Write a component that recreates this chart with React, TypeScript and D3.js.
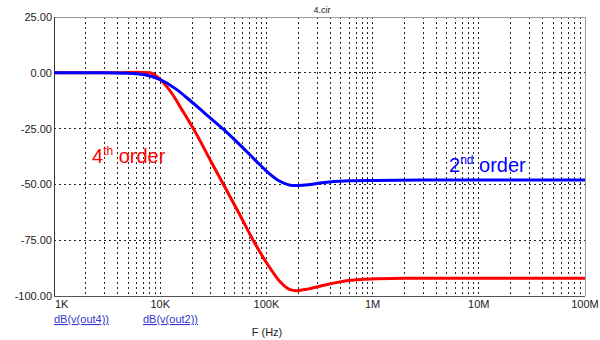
import React from 'react';
import * as d3 from 'd3';

const freqTicks = [1e3, 1e4, 1e5, 1e6, 1e7, 1e8];
const freqTickLabels = ['1K', '10K', '100K', '1M', '10M', '100M'];
const dbTicks = [25, 0, -25, -50, -75, -100];
const dbTickLabels = ['25.00', '0.00', '-25.00', '-50.00', '-75.00', '-100.00'];
const dbGrid = [0, -25, -50, -75];

const order2Freq = [1e3, 3e3, 5e3, 7e3, 1e4, 1.4e4, 1.9e4, 2.7e4, 4e4, 5.6e4, 7.8e4, 1e5, 1.34e5, 1.78e5, 2e5, 2.6e5, 3.2e5, 6e5, 1e6, 3e6, 1e7, 1e8];
const order2Db = [0, 0, -0.2, -0.8, -3.1, -7.2, -12.3, -18.6, -25.6, -32.2, -39, -44, -48.6, -50.5, -50.5, -50, -49.4, -48.4, -48.2, -48, -48, -48];

const order4Freq = [1e3, 4e3, 6e3, 8e3, 1e4, 1.3e4, 1.6e4, 2.05e4, 3e4, 4e4, 5.6e4, 7.5e4, 1e5, 1.34e5, 1.65e5, 1.93e5, 2.5e5, 3.2e5, 5.7e5, 1.09e6, 2e6, 1e7, 1e8];
const order4Db = [0, 0, 0.3, 0, -3, -9.5, -16.5, -25, -39.6, -50.6, -63.5, -75, -85, -93.5, -97, -97.6, -96.8, -95.6, -93.2, -92.3, -92, -92, -92];

const title = '4.cir';
const xLabel = 'F (Hz)';
const legend = ['dB(v(out4))', 'dB(v(out2))'];

const FONT = '"Liberation Sans", Arial, sans-serif';

export default function App() {
  const left = 54, right = 585, top = 17, bottom = 296;
  const x = d3.scaleLog().domain([1e3, 1e8]).range([left, right]);
  const y = d3.scaleLinear().domain([-100, 25]).range([bottom, top]);

  const minor: number[] = [];
  for (let d = 1e3; d < 1e8; d *= 10) {
    for (let m = 1; m <= 9; m++) {
      const v = d * m;
      if (v > 1e3) minor.push(v);
    }
  }

  const line = d3
    .line<[number, number]>()
    .x((d) => x(d[0]))
    .y((d) => y(d[1]))
    .curve(d3.curveMonotoneX);

  const red = line(order4Freq.map((f, i) => [f, order4Db[i]] as [number, number])) || '';
  const blue = line(order2Freq.map((f, i) => [f, order2Db[i]] as [number, number])) || '';

  return (
    <svg width={600} height={340} style={{ position: 'absolute', left: 0, top: 0, background: '#fff' }} fontFamily={FONT}>
      <rect x={0} y={0} width={600} height={340} fill="#fff" />
      {minor.map((f, i) => (
        <line key={'v' + i} x1={x(f)} x2={x(f)} y1={top} y2={bottom} stroke="#222" strokeWidth={1} strokeDasharray="2,3" shapeRendering="crispEdges" />
      ))}
      {dbGrid.map((v, i) => (
        <line key={'h' + i} x1={left} x2={right} y1={y(v)} y2={y(v)} stroke="#222" strokeWidth={1} strokeDasharray="2,3" shapeRendering="crispEdges" />
      ))}
      <line x1={left} x2={right} y1={top} y2={top} stroke="#9a9a9a" strokeWidth={1} shapeRendering="crispEdges" />
      <line x1={right} x2={right} y1={top} y2={bottom} stroke="#9a9a9a" strokeWidth={1} shapeRendering="crispEdges" />
      <line x1={left} x2={left} y1={top} y2={bottom} stroke="#333" strokeWidth={1} shapeRendering="crispEdges" />
      <line x1={left} x2={right} y1={bottom} y2={bottom} stroke="#555" strokeWidth={1} shapeRendering="crispEdges" />

      <path d={red} fill="none" stroke="#ff0000" strokeWidth={3} strokeLinejoin="round" />
      <path d={blue} fill="none" stroke="#0000ff" strokeWidth={3} strokeLinejoin="round" />

      {dbTicks.map((v, i) => (
        <text key={'yl' + i} x={left - 2} y={y(v)} dy="0.36em" textAnchor="end" fontSize={11} fill="#222">
          {dbTickLabels[i]}
        </text>
      ))}
      {freqTicks.map((f, i) => (
        <text key={'xl' + i} x={i === 0 ? x(f) + 1 : x(f)} y={308} textAnchor={i === 0 ? 'start' : 'middle'} fontSize={11} fill="#222">
          {freqTickLabels[i]}
        </text>
      ))}
      <text x={322} y={13} textAnchor="middle" fontSize={9} fill="#222">{title}</text>
      <text x={267} y={336} textAnchor="middle" fontSize={11} fill="#222">{xLabel}</text>
      <text x={54} y={323} fontSize={11} fill="#3636d0" textDecoration="underline">{legend[0]}</text>
      <text x={143} y={323} fontSize={11} fill="#3636d0" textDecoration="underline">{legend[1]}</text>

      <text x={92} y={163} fontSize={20} fill="#ff0000">
        4<tspan fontSize={12} dy={-8}>th</tspan>
        <tspan dy={8}> order</tspan>
      </text>
      <text x={449} y={172} fontSize={20} fill="#0000ff">
        2<tspan fontSize={12} dy={-8}>nd</tspan>
        <tspan dy={8}> order</tspan>
      </text>
    </svg>
  );
}
